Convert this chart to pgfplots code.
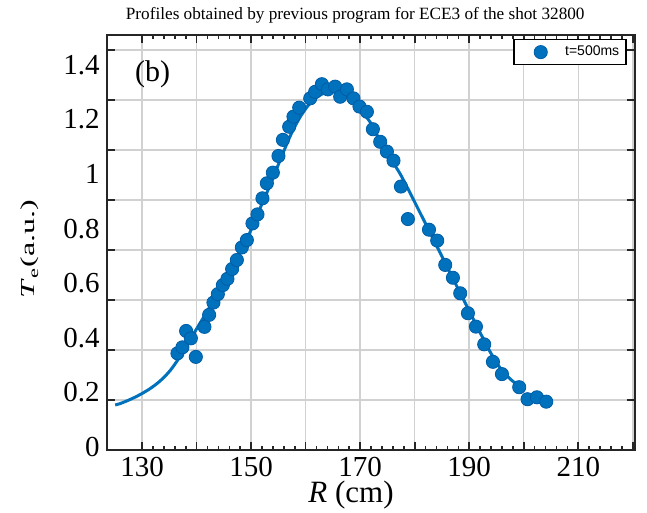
\documentclass[border=0pt]{standalone}
\usepackage{fontspec}
\setmainfont{Liberation Serif}
\newfontfamily\arialfont{Liberation Sans}
\usepackage{graphicx}
\usepackage{pgfplots}
\pgfplotsset{compat=1.18}
\definecolor{mblue}{RGB}{0,114,189}
\definecolor{medge}{RGB}{0,92,165}
\pgfplotstableread{
R T
136.48 0.343
137.39 0.365
138.07 0.425
138.94 0.398
139.85 0.330
141.43 0.440
142.29 0.484
143.08 0.529
143.89 0.560
144.81 0.593
145.65 0.616
146.51 0.652
147.38 0.685
148.29 0.731
149.21 0.758
150.24 0.819
151.16 0.852
152.07 0.911
152.88 0.966
153.98 1.005
155.01 1.066
155.82 1.125
156.97 1.173
157.76 1.210
158.81 1.243
160.83 1.277
161.74 1.301
162.97 1.329
164.07 1.310
165.41 1.320
166.33 1.283
167.56 1.310
168.77 1.277
169.87 1.247
171.23 1.228
172.33 1.164
173.67 1.118
174.90 1.082
176.11 1.049
177.47 0.954
178.75 0.835
182.62 0.796
184.13 0.756
185.60 0.667
187.01 0.620
188.35 0.563
189.76 0.490
191.23 0.441
192.75 0.376
194.35 0.312
196.00 0.267
199.17 0.219
200.70 0.175
202.42 0.182
204.13 0.166
}\meas
\pgfplotstableread{
R T
125.05 0.154
125.96 0.159
127.80 0.174
129.63 0.192
131.47 0.214
133.30 0.242
135.14 0.280
136.97 0.332
138.81 0.394
140.64 0.454
142.48 0.516
144.31 0.579
146.15 0.641
147.98 0.711
149.82 0.788
151.65 0.875
153.49 0.960
155.32 1.051
157.16 1.139
158.99 1.209
160.83 1.260
162.66 1.289
164.50 1.304
166.33 1.297
168.17 1.271
170.00 1.234
171.83 1.190
173.67 1.121
175.50 1.059
177.34 1.000
179.17 0.930
181.01 0.857
182.84 0.784
184.68 0.711
186.51 0.637
188.35 0.564
190.18 0.491
192.02 0.418
193.85 0.348
195.69 0.289
197.52 0.249
199.36 0.220
}\fit
\begin{document}
\begin{tikzpicture}
\useasboundingbox (0,0) rectangle (323.5pt,256.5pt);
\begin{axis}[
  at={(53.35pt,31.5pt)}, anchor=south west,
  scale only axis, width=264.4pt, height=207.5pt,
  xmin=123.5, xmax=220.5, ymin=-0.011, ymax=1.5092,
  xtick={130,140,...,220},
  xticklabels={130,,150,,170,,190,,210,},
  minor x tick num=4,
  ytick={-0.011,0.1722,0.3553,0.5385,0.7216,0.9048,1.0879,1.2711,1.4542},
  yticklabels={},
  minor y tick num=3,
  extra y ticks={0,0.2,0.4,0.6,0.8,1,1.2,1.4},
  extra y tick labels={0,0.2,0.4,0.6,0.8,1,1.2,1.4},
  extra y tick style={grid=none, tick style={draw=none}, minor tick num=0},
  tick align=inside,
  major tick length=4pt, minor tick length=2.2pt,
  tick style={line width=0.8pt, black!85},
  grid=major,
  major grid style={line width=0.75pt, black!18},
  axis line style={line width=1pt, black!85},
  tick label style={font=\fontsize{14.5}{15}\selectfont},
  xticklabel style={yshift=0pt},
  xlabel={\textit{R} (cm)},
  xlabel style={at={(axis description cs:0.462,0)}, anchor=north, yshift=-12pt, font=\fontsize{15.5}{16}\selectfont},
  ylabel={\scalebox{1}[0.62]{\textit{T}\textsubscript{e}(a.u.)}},
  ylabel style={at={(axis description cs:-0.145,0.484)}, anchor=center, font=\fontsize{16}{17}\selectfont},
  title={Profiles obtained by previous program for ECE3 of the shot 32800},
  title style={at={(axis description cs:0.470,1.048)}, anchor=center, yshift=-6pt, font=\fontsize{8.6}{9}\selectfont},
  legend style={at={(axis description cs:1,1)}, anchor=north east, xshift=-4.25pt, yshift=-2pt,
    draw=black, line width=0.75pt, font=\arialfont\fontsize{7}{8}\selectfont,
    inner xsep=1.5pt, inner ysep=1pt},
  legend cell align=left,
]
\addplot[only marks, mark=*, mark size=3.3pt, mark options={fill=mblue, draw=medge, line width=0.4pt},
  legend image code/.code={\path[draw=none, fill=none] (0pt,-3pt) rectangle (22pt,3pt);
    \path[draw=none] plot[mark=*, mark size=3.3pt, mark options={fill=mblue, draw=medge, line width=0.4pt}] coordinates {(11.8pt,0pt)};}]
  table[x=R, y=T] {\meas};
\addlegendentry{t=500ms}
\addplot[mblue, line width=1.5pt, smooth, forget plot] table[x=R, y=T] {\fit};
\node[font=\fontsize{15}{16}\selectfont, anchor=center] at (axis description cs:0.087,0.905) {(b)};
\end{axis}
\end{tikzpicture}
\end{document}
